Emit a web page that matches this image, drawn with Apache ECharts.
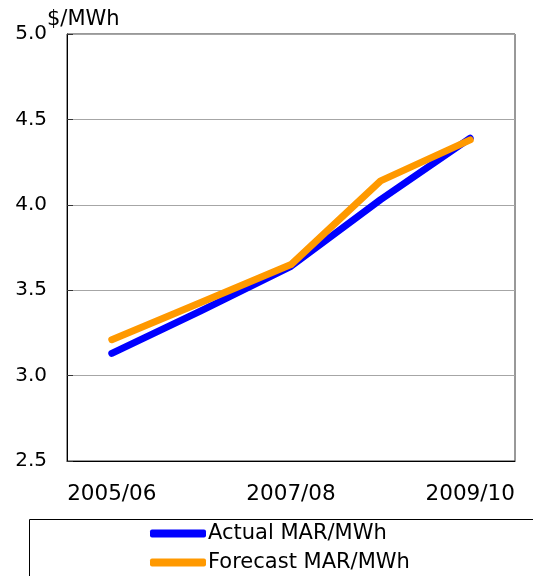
<!DOCTYPE html>
<html>
<head>
<meta charset="utf-8">
<script src="https://cdn.jsdelivr.net/npm/echarts@6/dist/echarts.min.js"></script>
<style>
html,body{margin:0;padding:0;background:#fff;}
#chart{width:533px;height:576px;}
</style>
</head>
<body>
<div id="chart"></div>
<script>
// Market adjustment revenue per MWh, actual vs forecast
const years = ['2005/06', '2006/07', '2007/08', '2008/09', '2009/10'];
const actualMAR = [3.13, 3.38, 3.64, 4.03, 4.39];
const forecastMAR = [3.21, 3.43, 3.65, 4.14, 4.38];
const yTicks = { min: 2.5, max: 5.0, step: 0.5 };

const FONT = 'DejaVu Sans';
const chart = echarts.init(document.getElementById('chart'));

chart.setOption({
  animation: false,
  textStyle: { fontFamily: FONT },
  grid: { left: 67, right: 18, top: 34, bottom: 115, show: true, borderColor: '#333', borderWidth: 1 },
  title: {
    text: '$/MWh', left: 42, top: 4,
    textStyle: { fontFamily: FONT, fontSize: 21, fontWeight: 'normal', color: '#000' }
  },
  xAxis: {
    type: 'category', data: years, boundaryGap: true,
    axisLine: { lineStyle: { color: '#000' } },
    axisTick: { interval: 1, inside: true, length: 6, lineStyle: { color: '#000' } },
    axisLabel: { interval: 1, fontSize: 21.5, color: '#000', margin: 22, fontFamily: FONT },
    splitLine: { show: false }
  },
  yAxis: {
    type: 'value', min: yTicks.min, max: yTicks.max, interval: yTicks.step,
    axisLine: { show: true, lineStyle: { color: '#000' } },
    axisTick: { show: true, inside: true, length: 6, lineStyle: { color: '#333' } },
    axisLabel: { fontSize: 20, color: '#000', margin: 20, fontFamily: FONT,
      formatter: v => v.toFixed(1) },
    splitLine: { show: true, lineStyle: { color: '#a6a6a6', width: 1 } }
  },
  legend: {
    orient: 'vertical', left: 150, top: 523, itemGap: 8, padding: 0,
    itemWidth: 56, itemHeight: 8,
    icon: 'roundRect',
    textStyle: { fontSize: 21, color: '#000', fontFamily: FONT, padding: [0, 0, 0, -3] },
    data: ['Actual MAR/MWh', 'Forecast MAR/MWh']
  },
  graphic: [{
    type: 'rect', left: 27, top: 517, silent: true,
    shape: { width: 530, height: 80 },
    style: { fill: 'none', stroke: '#000', lineWidth: 1 }
  }],
  series: [
    {
      name: 'Actual MAR/MWh', type: 'line', data: actualMAR,
      showSymbol: false, symbol: 'none',
      lineStyle: { color: '#0000ff', width: 7, cap: 'round', join: 'round' },
      itemStyle: { color: '#0000ff' }, z: 2
    },
    {
      name: 'Forecast MAR/MWh', type: 'line', data: forecastMAR,
      showSymbol: false, symbol: 'none',
      lineStyle: { color: '#ff9900', width: 7, cap: 'round', join: 'round' },
      itemStyle: { color: '#ff9900' }, z: 3
    }
  ]
});
</script>
</body>
</html>
